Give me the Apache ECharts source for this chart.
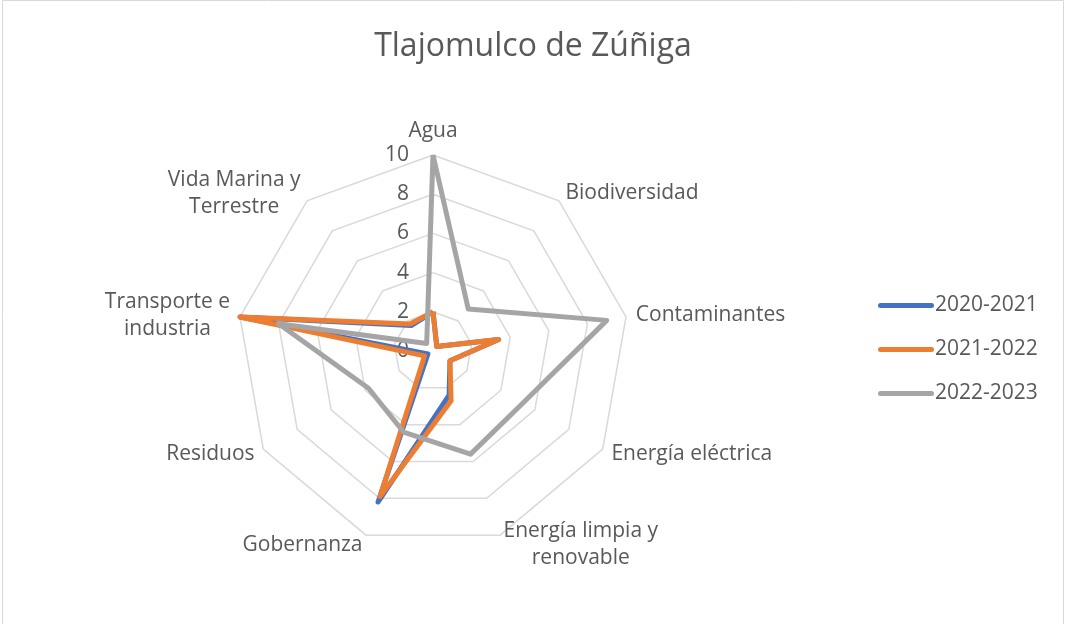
<!DOCTYPE html>
<html>
<head>
<meta charset="utf-8">
<script src="https://cdn.jsdelivr.net/npm/echarts@6/dist/echarts.min.js"></script>
<style>
  html, body { margin: 0; padding: 0; background: #fff; }
  #container { width: 1066px; height: 624px; }
</style>
</head>
<body>
<div id="container"></div>
<script>
var indicatorNames = ['Agua', 'Biodiversidad', 'Contaminantes', 'Energía eléctrica',
    'Energía limpia y\nrenovable', 'Gobernanza', 'Residuos',
    'Transporte e\nindustria', 'Vida Marina y\nTerrestre'];
var seriesNames = ['2020-2021', '2021-2022', '2022-2023'];
var values2020 = [2, 0.3, 3.4, 1, 2.4, 8.2, 0.3, 10, 1.7];
var values2021 = [2, 0.3, 3.4, 1, 2.7, 7.9, 0.5, 10, 1.8];
var values2022 = [10, 2.8, 9, 5.3, 5.6, 4.4, 3.8, 8, 0.5];
var colors = ['#4472C4', '#ED7D31', '#A5A5A5'];

var dom = document.getElementById('container');
var myChart = echarts.init(dom);
var font = 'Open Sans';

// echarts lays radar axes counter-clockwise; Excel goes clockwise
var order = [0, 8, 7, 6, 5, 4, 3, 2, 1];
function reorder(arr) {
    return order.map(function (i) { return arr[i]; });
}

var indicators = reorder(indicatorNames).map(function (n, i) {
    var ind = { name: n, min: 0, max: 10 };
    if (i === 0) {
        ind.axisLabel = { show: true };
    }
    return ind;
});

var allValues = [values2020, values2021, values2022];

var option = {
    backgroundColor: '#fff',
    color: colors,
    title: {
        text: 'Tlajomulco de Zúñiga',
        left: 'center',
        top: 26,
        textStyle: { fontFamily: font, fontSize: 32, fontWeight: 'normal', color: '#595959' }
    },
    legend: {
        orient: 'vertical',
        left: 873,
        top: 290,
        itemWidth: 56,
        itemHeight: 5,
        itemGap: 23,
        icon: 'path://M2.5,0 L53.5,0 A2.5,2.5 0 0 1 53.5,5 L2.5,5 A2.5,2.5 0 0 1 2.5,0 Z',
        textStyle: { fontFamily: font, fontSize: 21, color: '#595959', padding: [0, 0, 0, -4] },
        data: seriesNames
    },
    graphic: [{
        type: 'rect',
        shape: { x: 2.5, y: 0.5, width: 1061, height: 660 },
        style: { fill: 'none', stroke: '#d9d9d9', lineWidth: 1 },
        silent: true
    }],
    radar: {
        center: [433, 351],
        radius: 196,
        startAngle: 90,
        shape: 'polygon',
        splitNumber: 5,
        nameGap: 10,
        indicator: indicators,
        axisName: {
            color: '#595959',
            fontFamily: font,
            fontSize: 21,
            formatter: function (v) {
                return '{c|' + v.split('\n').join('}\n{c|') + '}';
            },
            rich: {
                c: { align: 'center', fontFamily: font, fontSize: 21, color: '#595959', lineHeight: 27 }
            }
        },
        axisLine: { show: false },
        axisTick: { show: false },
        axisLabel: {
            show: false,
            fontFamily: font,
            fontSize: 21,
            color: '#595959',
            margin: 24
        },
        splitLine: { lineStyle: { color: '#d9d9d9', width: 1.5 } },
        splitArea: { show: false }
    },
    series: [{
        type: 'radar',
        symbol: 'none',
        data: allValues.map(function (vals, k) {
            return {
                name: seriesNames[k],
                value: reorder(vals),
                lineStyle: { width: 5, color: colors[k], join: 'round' }
            };
        })
    }]
};
myChart.setOption(option);
</script>
</body>
</html>
